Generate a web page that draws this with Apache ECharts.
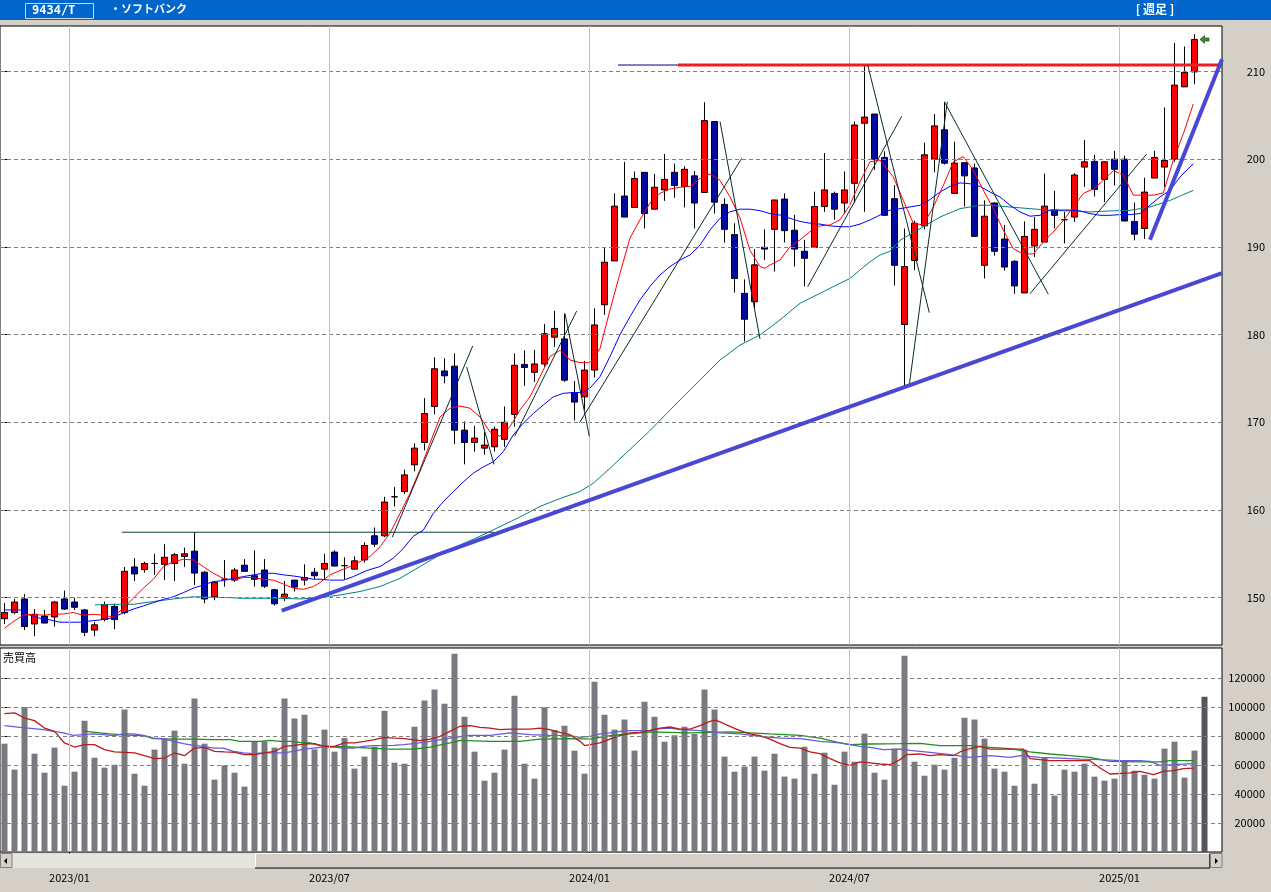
<!DOCTYPE html>
<html><head><meta charset="utf-8">
<script src="https://cdn.jsdelivr.net/npm/echarts@6/dist/echarts.min.js"></script>
<style>html,body{margin:0;padding:0;background:#d4d0c8;overflow:hidden}#c{width:1271px;height:892px}</style>
</head><body><div id="c"></div>
<script>
// weekly candles: [open, close, low, high]
const ohlc = [
[147.6,148.3,147.0,149.4],[148.3,149.5,148.1,149.85],[149.85,146.7,146.3,150.4],[147.0,148.1,145.6,148.7],[147.9,147.1,147.1,148.6],
[147.8,149.5,146.7,149.6],[149.85,148.7,148.6,150.8],[149.5,148.9,148.6,150.0],[148.6,146.05,145.6,148.7],[146.3,146.9,145.6,147.2],
[147.5,149.2,147.3,149.55],[149.0,147.5,146.4,149.3],[148.3,153.0,148.1,153.5],[153.5,152.7,151.9,154.5],[153.2,153.9,152.85,154.1],
[153.9,153.9,152.6,155.0],[153.8,154.6,152.0,156.1],[153.9,154.9,151.9,155.1],[154.7,155.0,153.5,155.7],[155.3,152.8,151.45,157.45],
[152.9,149.85,149.35,153.0],[150.1,151.75,149.7,151.9],[152.1,152.1,151.25,154.3],[152.0,153.15,151.8,153.4],[153.7,153.0,153.0,154.4],
[152.5,152.1,151.25,155.4],[153.15,151.3,151.1,154.4],[150.9,149.3,149.1,151.0],[149.9,150.4,149.6,151.9],[152.0,151.2,150.7,152.0],
[152.0,152.3,151.4,153.8],[152.9,152.5,152.1,153.4],[153.25,153.9,152.1,155.0],[155.2,153.6,153.6,155.4],[153.65,153.65,152.1,154.6],
[153.25,154.2,153.2,154.7],[154.3,155.95,154.0,156.3],[157.05,156.1,155.8,158.0],[157.05,160.9,156.9,161.5],[161.5,161.5,160.4,162.6],
[162.1,164.0,161.8,164.6],[165.15,167.05,164.4,167.6],[167.7,171.0,166.8,172.75],[171.8,176.1,170.9,177.4],[175.85,175.3,174.45,177.3],
[176.4,169.1,167.5,177.85],[169.1,167.7,165.2,170.1],[167.7,168.2,166.65,169.6],[167.05,167.4,166.3,168.9],[167.2,169.2,166.65,169.5],
[168.05,170.0,167.2,171.8],[170.9,176.5,169.5,177.85],[176.6,176.25,174.15,178.2],[175.7,176.65,174.6,178.25],[176.65,180.1,176.35,181.2],
[179.7,180.7,178.6,182.7],[179.5,174.8,174.6,182.4],[173.4,172.3,170.2,174.7],[172.9,175.95,171.4,177.0],[175.95,181.1,175.1,183.0],
[183.4,188.25,182.25,189.85],[188.4,194.65,188.4,196.1],[195.8,193.4,193.4,199.7],[194.5,197.8,194.5,198.6],[198.5,193.8,192.1,198.5],
[194.3,196.8,194.3,198.3],[196.5,197.7,195.25,200.6],[198.5,197.0,195.6,199.5],[196.9,198.85,194.5,199.2],[198.1,195.0,192.1,198.65],
[196.2,204.4,196.2,206.5],[204.3,195.1,193.8,204.3],[194.85,192.0,190.5,195.55],[191.4,186.4,184.8,192.7],[184.7,181.75,179.2,186.3],
[183.75,187.95,183.0,189.75],[189.95,189.75,188.5,192.0],[192.0,195.35,187.2,195.35],[195.45,191.85,190.5,196.1],[191.9,189.75,187.75,193.65],
[189.5,188.7,185.5,190.8],[189.95,194.6,189.95,196.3],[194.6,196.5,194.0,200.7],[196.1,194.3,193.1,196.3],[195.0,196.5,193.8,198.6],
[197.25,203.9,195.0,204.3],[204.1,204.8,194.0,210.7],[205.15,200.0,198.8,205.15],[200.2,193.6,193.6,200.9],[195.5,187.9,185.6,197.05],
[181.15,187.75,174.05,192.1],[188.45,192.7,187.35,193.0],[192.4,200.5,192.0,201.9],[200.0,203.8,198.5,205.15],[203.35,199.55,199.4,206.55],
[196.1,199.55,196.1,202.0],[199.6,198.1,194.6,199.6],[199.0,191.2,191.2,199.5],[187.9,193.5,186.4,195.3],[195.0,189.5,189.0,195.1],
[190.9,187.7,187.3,192.5],[188.35,185.55,184.65,188.5],[184.75,191.2,184.75,192.9],[190.1,192.0,188.85,193.4],[190.55,194.65,190.55,198.35],
[194.2,193.6,192.1,196.4],[193.1,193.1,190.4,194.0],[193.4,198.2,192.85,198.4],[199.1,199.7,196.85,202.2],[199.75,196.55,195.75,200.5],
[197.7,199.7,195.1,199.75],[200.0,198.85,197.0,200.95],[200.0,192.95,192.95,200.4],[192.9,191.45,190.75,195.05],[192.1,196.25,190.9,197.9],
[197.85,200.2,197.85,200.95],[199.1,199.85,196.85,205.9],[200.0,208.45,199.7,213.25],[208.25,209.9,208.25,212.85],[209.95,213.65,208.55,214.25]
];
const volumes = [
74700,56800,100000,67800,54700,72000,45700,55400,90600,65000,
58200,60200,98200,54000,45700,70600,78200,83700,60900,105800,
74700,49900,59800,54700,45100,75900,76300,72000,105800,92000,
94700,70800,84400,69200,78600,57500,65800,72600,97500,61600,
60900,86400,104400,112000,102300,136800,93300,69200,49200,54700,
70600,107800,60900,50600,99800,84100,87100,69900,54000,117500,
94700,84400,91300,69900,103700,93300,76100,80500,86400,81400,
112000,98200,65800,55400,58900,65800,56100,67800,52000,50600,
72600,54000,68500,46400,69200,62300,81600,54700,49900,71300,
135400,62300,52600,60200,56800,65000,92600,91300,78200,57500,
55400,45700,70600,47100,65000,38900,56800,55400,60900,52000,
49200,50600,62300,56100,53300,50600,71300,76100,51300,69900,
107100
];
// price moving averages: [week index, value]
const maShort = [[0,146.5],[0.88,147.27],[1.88,148.0],[2.88,148.1],[3.88,148.0],[4.88,148.1],[5.88,148.14],[6.88,148.3],[7.88,148.0],[8.88,148.1],[9.88,148.0],[10.88,147.8],[11.88,148.8],[12.88,149.93],[13.88,151.07],[14.88,152.1],[15.88,153.54],[16.88,154.1],[17.88,154.37],[18.88,154.3],[19.88,153.54],[20.88,152.78],[21.88,152.2],[22.88,152.0],[23.88,152.3],[24.88,152.3],[25.88,152.1],[26.88,152.0],[27.88,151.56],[28.88,151.07],[29.88,150.95],[30.88,151.26],[31.55,151.72],[32.55,152.6],[33.55,153.09],[34.55,153.55],[35.55,154.1],[36.55,154.7],[37.55,155.8],[38.55,157.35],[39.55,159.6],[40.55,161.9],[41.55,164.6],[42.55,167.6],[43.55,170.6],[44.55,171.6],[45.55,171.86],[46.55,171.6],[47.55,170.6],[48.55,168.9],[49.55,168.4],[50.55,169.5],[51.55,171.4],[52.55,172.9],[53.55,175.2],[54.55,177.5],[55.55,178.2],[56.55,177.1],[57.55,176.8],[58.55,176.8],[59.55,178.4],[60.55,182.8],[61.55,187.0],[62.55,191.0],[63.55,193.1],[64.55,195.0],[65.55,196.1],[66.55,196.6],[67.55,196.8],[68.55,196.9],[69.55,197.8],[70.55,198.3],[71.55,197.6],[72.55,195.7],[73.55,193.3],[74.55,189.6],[75.55,187.75],[76.05,187.56],[76.55,187.94],[77.55,188.5],[78.55,190.0],[79.55,190.8],[80.55,191.74],[81.55,192.4],[82.55,192.5],[83.55,193.1],[84.55,194.8],[85.55,197.44],[86.55,199.7],[87.55,199.9],[88.88,197.98],[89.88,195.3],[90.88,192.7],[91.88,192.5],[92.88,194.55],[93.88,197.0],[94.88,199.7],[95.88,200.3],[96.88,198.74],[97.88,196.46],[98.88,194.36],[99.88,191.9],[100.88,189.8],[101.88,189.2],[102.88,189.2],[103.88,190.56],[104.88,191.7],[105.88,193.0],[106.88,194.55],[107.88,196.1],[108.88,196.6],[109.88,197.6],[110.88,198.7],[111.88,198.2],[112.88,195.9],[113.88,195.9],[114.88,195.9],[115.88,196.15],[116.88,199.9],[117.88,202.9],[118.88,206.3]];
const maMid = [[0,148.6],[1.55,148.6],[2.55,148.0],[3.55,147.65],[4.55,147.46],[5.55,147.2],[6.55,147.2],[7.55,147.2],[8.55,147.34],[9.55,147.46],[10.55,147.65],[11.55,148.1],[12.88,148.7],[13.88,149.05],[14.88,149.43],[15.88,149.8],[16.88,150.1],[17.88,150.57],[18.88,151.07],[19.88,151.45],[20.88,151.83],[21.88,151.94],[22.88,152.2],[23.88,152.4],[24.88,152.6],[25.88,152.78],[26.88,152.78],[27.88,152.6],[28.88,152.47],[29.88,152.3],[30.88,152.1],[31.55,152.1],[32.55,152.0],[33.88,152.0],[34.88,152.4],[36.22,153.09],[37.55,153.55],[38.88,154.5],[39.88,155.6],[40.88,157.0],[41.88,157.7],[42.88,159.6],[43.88,160.95],[44.88,162.1],[45.88,163.2],[46.88,164.2],[47.88,164.9],[48.88,165.5],[49.88,166.65],[50.88,168.55],[51.88,169.9],[52.88,171.0],[53.88,171.97],[54.88,172.9],[55.88,173.3],[56.88,173.4],[57.88,173.4],[58.55,173.9],[59.55,175.2],[60.55,177.5],[61.55,180.0],[62.55,182.05],[63.55,183.95],[64.55,185.5],[65.55,186.8],[66.55,187.75],[67.55,188.5],[68.55,189.08],[69.55,190.2],[70.55,191.93],[71.55,193.26],[72.55,194.0],[73.55,194.3],[74.55,194.3],[75.55,194.13],[76.55,193.8],[77.55,193.64],[78.55,193.26],[79.55,192.9],[80.55,192.7],[81.55,192.6],[82.55,192.4],[83.55,192.3],[84.55,192.3],[85.55,192.6],[86.55,193.07],[87.55,193.64],[88.55,194.2],[89.55,194.36],[91.55,194.75],[92.55,195.4],[93.55,196.26],[94.55,196.9],[95.55,197.3],[96.55,197.2],[97.55,196.9],[98.55,196.26],[99.55,195.7],[100.55,194.75],[101.55,193.99],[102.55,193.5],[103.55,193.6],[104.55,194.2],[105.55,194.2],[106.55,194.2],[107.55,194.1],[108.55,193.8],[109.55,193.6],[110.55,193.6],[111.55,193.68],[112.55,193.68],[113.55,193.8],[114.55,194.75],[115.55,195.7],[116.55,196.45],[117.55,197.97],[118.88,199.5]];
const maLong = [[9.05,149.17],[10.55,149.24],[12.88,149.24],[14.88,149.55],[16.88,149.85],[18.88,150.1],[20.88,150.04],[22.55,150.0],[23.55,149.93],[25.55,149.93],[27.55,149.93],[29.55,149.85],[31.55,150.0],[33.55,150.3],[35.55,150.7],[37.55,151.27],[39.55,152.2],[41.55,153.55],[43.55,154.9],[45.55,156.0],[47.55,157.0],[49.55,158.1],[51.55,159.2],[53.55,160.4],[55.55,161.3],[57.55,162.1],[58.88,163.05],[60.55,164.75],[64.5,169.0],[67.55,172.55],[69.55,174.83],[71.55,177.1],[73.55,178.8],[75.55,179.96],[77.55,181.67],[79.55,183.57],[81.55,184.7],[83.55,185.85],[84.55,186.4],[85.55,187.37],[86.55,188.3],[87.55,189.08],[88.55,189.5],[89.55,190.75],[91.55,192.08],[93.55,193.4],[95.55,194.36],[97.55,194.75],[98.55,194.75],[100.55,194.55],[102.55,194.36],[104.55,194.17],[106.55,194.1],[108.55,193.99],[110.55,194.1],[112.55,194.17],[114.55,194.55],[116.55,195.3],[118.88,196.45]];
// volume moving averages
const volMaShort = [[0,95400],[1,95900],[2,92400],[3,90600],[4,85500],[5,83200],[6,75200],[7,72400],[8,74000],[9,74000],[10,70600],[11,69000],[12,68700],[13,68300],[14,66400],[15,64400],[16,64800],[17,68300],[18,66400],[19,71700],[20,72200],[21,69400],[22,69000],[23,68700],[24,67100],[25,67100],[26,68300],[27,69400],[28,72900],[29,73600],[30,74500],[31,74700],[32,72900],[33,72900],[34,75200],[35,75200],[36,76300],[37,77500],[38,79100],[39,78600],[40,78200],[41.55,76800],[42.55,77900],[43.55,79800],[44.55,83200],[45.55,86700],[46.55,87100],[47.55,86000],[48.55,85500],[49.55,84400],[50.55,84800],[52.55,84800],[53.55,85500],[54.55,84400],[55.55,82500],[56.55,80900],[57.55,76300],[58.05,73300],[58.55,74000],[59.55,75200],[60.55,77900],[61.55,80200],[62.55,82100],[63.55,82500],[64.55,83900],[65.55,85500],[66.55,86200],[67.55,84800],[68.55,84800],[69.55,87100],[70.55,90100],[71.05,91000],[71.55,89700],[72.55,86700],[73.55,83700],[74.55,81400],[75.55,80200],[76.55,77900],[77.55,74700],[78.55,72200],[79.55,71700],[80.55,69000],[81.55,67800],[82.55,64400],[83.55,61400],[84.55,59800],[85.55,62100],[86.55,61400],[87.55,60700],[88.55,60200],[89.55,63700],[90.2,67100],[91.55,67600],[92.55,66400],[93.55,67100],[94.9,66400],[95.55,69000],[96.55,71300],[97.55,72900],[98.55,71000],[100.2,71000],[101.9,71000],[102.55,64400],[104.55,63000],[108.55,63000],[109.55,57900],[110.55,53800],[112.55,54500],[113.55,55600],[114.9,53300],[115.9,55600],[116.9,56100],[117.9,57500],[118.9,57900]];
const volMaMid = [[0,87100],[1.55,86000],[2.9,85100],[3.9,84400],[4.9,83200],[5.9,82100],[6.9,80500],[7.9,80900],[8.9,81400],[9.9,80900],[10.9,80200],[11.9,81400],[12.9,81400],[13.9,80500],[14.9,78600],[15.9,78200],[16.9,76300],[17.9,74700],[18.9,73600],[19.9,72900],[20.9,71700],[21.9,71700],[22.9,69400],[23.9,68300],[24.9,67800],[25.9,68300],[26.9,68300],[27.9,68300],[28.9,69400],[29.9,71000],[30.9,71700],[31.9,72400],[32.9,72400],[33.9,71700],[34.9,71700],[35.9,72900],[36.9,73300],[37.9,73300],[38.9,73600],[39.9,74000],[40.9,74700],[42.55,76300],[44.55,78600],[46.55,80500],[48.55,80500],[50.55,82100],[52.55,80900],[54.55,80500],[56.55,80200],[57.55,79100],[58.55,79800],[59.55,81400],[60.55,82100],[61.55,83200],[62.55,83700],[64.55,83700],[65.55,85100],[66.55,85500],[67.55,84400],[69.55,83700],[71.55,82100],[73.55,81400],[75.55,79800],[77.55,78600],[79.55,78200],[81.55,76300],[83.55,75200],[84.55,74000],[85.55,72900],[86.55,72200],[87.9,70600],[89.55,71000],[90.55,70100],[92.55,68700],[94.55,67100],[96.55,65300],[98.55,66400],[100.55,65300],[101.55,66400],[103.55,65300],[105.55,64800],[107.55,64100],[109.55,63700],[111.55,63000],[113.55,63000],[114.55,62500],[115.55,59800],[116.9,60200],[118.9,60900]];
const volMaLong = [[7.9,83400],[9.55,82100],[10.55,81400],[11.55,80900],[12.9,80500],[13.9,80200],[14.9,78200],[16.9,77900],[18.9,77900],[20.9,77500],[22.55,77500],[23.55,76300],[25.55,76300],[26.55,77000],[27.55,76300],[28.55,76300],[29.55,75600],[30.55,75200],[31.55,73300],[32.55,72900],[34.55,72400],[36.55,71700],[38.55,71000],[40.9,71000],[42.55,72400],[44.55,75200],[45.55,77000],[48.55,76300],[51.55,76300],[53.55,77900],[56.55,78200],[58.55,77900],[60.55,80200],[62.55,81400],[64.55,82800],[68.55,82100],[72.55,82800],[76.55,81400],[79.55,80500],[81.55,78600],[83.55,75200],[84.55,74000],[86.55,74500],[89.55,74700],[91.55,74900],[93.55,73300],[96.55,73300],[98.55,72200],[100.55,71300],[102.55,69000],[104.55,67600],[106.55,66400],[108.55,65300],[110.55,62500],[113.55,62100],[115.55,62100],[116.55,63000],[118.9,63000]];
// drawn trend lines [[week, price],[week, price]]
const thinLines = [
 [[38.78,156.9],[46.82,178.7]],[[46.22,176.3],[48.95,165.2]],[[51.02,168.4],[57.22,182.7]],
 [[56.05,182.4],[58.48,168.4]],[[57.5,169.95],[73.72,200.1]],[[71.55,204.3],[75.55,179.5]],
 [[80.32,185.46],[89.72,204.9]],[[86.32,210.74],[92.48,182.5]],[[90.48,174.26],[94.28,206.56]],
 [[93.98,206.56],[104.38,184.6]],[[102.55,184.66],[114.22,200.6]]
];
const supportLines = [[[27.72,148.52],[121.75,187.0]],[[114.55,190.82],[121.75,211.4]]];
const boxTopLine = [[11.75,157.46],[48.95,157.46]];
const resistStub = [[61.35,210.74],[67.35,210.74]];
const resistLine = [[67.35,210.74],[121.75,210.74]];
const lastPriceMark = [[120.0,213.65]];
const priceTicks = [150,160,170,180,190,200,210];
const volumeTicks = [20000,40000,60000,80000,100000,120000];
const monthTickPos = [6.5,32.5,58.5,84.5,111.5];
const monthTickLabels = ['2023/01','2023/07','2024/01','2024/07','2025/01'];

const chart = echarts.init(document.getElementById('c'), null, {renderer:'canvas'});
const XMIN = -0.45, XMAX = 121.75;
const lbl = {color:'#000', fontSize:11, fontFamily:'"Noto Sans CJK JP", sans-serif'};
const dashLine = {color:'#808080', type:[4,3], width:1};
const vLine = {color:'#c0c0c0', type:'solid', width:1};

function gridMarks(values){
  return {silent:true, symbol:'none', animation:false, label:{show:false},
    data: values.map(v=>({yAxis:v, lineStyle:dashLine})).concat(monthTickPos.map(v=>({xAxis:v, lineStyle:vLine})))};
}
function seg(data, color, width, xi, yi, z){
  return {type:'line', xAxisIndex:xi||0, yAxisIndex:yi||0, data:data, symbol:'none', showSymbol:false,
    lineStyle:{color:color, width:width}, silent:true, animation:false, z:z||5};
}

const series = [];
series.push({type:'line', xAxisIndex:0, yAxisIndex:0, data:[], markLine:gridMarks(priceTicks), z:1, silent:true});
series.push({type:'line', xAxisIndex:1, yAxisIndex:1, data:[], markLine:gridMarks(volumeTicks), z:1, silent:true});
series.push({type:'candlestick', xAxisIndex:0, yAxisIndex:0, barWidth:7,
  data: ohlc.map((d,i)=>[i,d[0],d[1],d[2],d[3]]), encode:{x:0, y:[1,2,3,4]},
  itemStyle:{color:'#ff0000', color0:'#000a9c', borderColor:'#000', borderColor0:'#000', borderWidth:1}, z:3, silent:true});
series.push(seg(maLong,'#008080',1,0,0,4));
series.push(seg(maMid,'#0000ff',1,0,0,4));
series.push(seg(maShort,'#ff0000',1,0,0,4));
series.push(seg(boxTopLine,'#0a3a3a',1));
series.push(seg(resistStub,'#000080',1));
series.push(seg(resistLine,'#ee1c25',3));
thinLines.forEach(l=>series.push(seg(l,'#0a2a2a',1)));
supportLines.forEach(l=>series.push(seg(l,'#4848d4',4)));
series.push({type:'scatter', xAxisIndex:0, yAxisIndex:0, data:lastPriceMark, symbol:'path://M0,5 L5,0 L5,3 L10,3 L10,7 L5,7 L5,10 Z',
  symbolSize:[9,8], itemStyle:{color:'#007000', borderColor:'#002000', borderWidth:0.6}, z:6, silent:true});
series.push({type:'bar', xAxisIndex:1, yAxisIndex:1, barWidth:6,
  data: volumes.map((v,i)=>({value:[i,v], itemStyle:{color: i===volumes.length-1 ? '#56555c' : '#7a7980'}})), z:2, silent:true});
series.push(seg(volMaLong,'#1f8f1f',1.3,1,1,4));
series.push(seg(volMaMid,'#6a5ad8',1.3,1,1,4));
series.push(seg(volMaShort,'#b81c1c',1.3,1,1,4));

const scrollY = 853.5;
chart.setOption({
  animation:false,
  backgroundColor:'#d4d0c8',
  grid:[
    {left:0, top:26, width:1222, height:619, show:true, backgroundColor:'#ffffff', borderColor:'#000', borderWidth:1},
    {left:0, top:648, width:1222, height:204, show:true, backgroundColor:'#ffffff', borderColor:'#000', borderWidth:1}
  ],
  xAxis:[
    {type:'value', gridIndex:0, min:XMIN, max:XMAX, show:false},
    {type:'value', gridIndex:1, min:XMIN, max:XMAX, offset:17,
      axisLine:{show:false}, splitLine:{show:false},
      axisTick:{show:true, length:5, customValues:monthTickPos, lineStyle:{color:'#000'}},
      axisLabel:Object.assign({customValues:monthTickPos, margin:3,
        formatter:(v)=>{const k=monthTickPos.findIndex(p=>Math.abs(p-v)<0.01); return k>=0?monthTickLabels[k]:'';}}, lbl)}
  ],
  yAxis:[
    {type:'value', gridIndex:0, position:'right', min:144.6, max:215.19, splitLine:{show:false},
      axisLine:{show:false}, axisTick:{show:true, length:3, customValues:priceTicks, lineStyle:{color:'#000'}},
      axisLabel:Object.assign({customValues:priceTicks, align:'right', margin:43, formatter:(v)=>String(v)}, lbl)},
    {type:'value', gridIndex:1, position:'right', min:0, max:140690, splitLine:{show:false},
      axisLine:{show:false}, axisTick:{show:true, length:3, customValues:volumeTicks, lineStyle:{color:'#000'}},
      axisLabel:Object.assign({customValues:volumeTicks, align:'right', margin:43, formatter:(v)=>String(v)}, lbl)}
  ],
  series: series,
  graphic:[
    {type:'rect', shape:{x:0,y:0,width:1271,height:20}, style:{fill:'#0066cc'}, z:100, silent:true},
    {type:'rect', shape:{x:25.5,y:3.5,width:68,height:15}, style:{fill:'none', stroke:'#c8d4e8', lineWidth:1}, z:101, silent:true},
    {type:'text', x:32, y:4.5, style:{text:'9434/T', fill:'#fff', font:'bold 12px "DejaVu Sans Mono", monospace'}, z:101, silent:true},
    {type:'text', x:110, y:3.5, style:{text:'・ソフトバンク', fill:'#fff', font:'bold 11px "Noto Sans CJK JP"'}, z:101, silent:true},
    {type:'text', x:1155, y:3, style:{text:'[ 週足 ]', fill:'#fff', align:'center', font:'bold 12px "Noto Sans CJK JP"'}, z:101, silent:true},
    {type:'text', x:3, y:652, style:{text:'売買高', fill:'#000', font:'11px "Noto Sans CJK JP"'}, z:101, silent:true},
    // scrollbar
    {type:'rect', shape:{x:0,y:scrollY,width:1222,height:14.5}, style:{fill:'#e6e4df'}, z:90, silent:true},
    {type:'rect', shape:{x:255.5,y:scrollY,width:954,height:14}, style:{fill:'#d4d0c8', stroke:'#ffffff', lineWidth:1}, z:91, silent:true},
    {type:'line', shape:{x1:255,y1:868,x2:1210,y2:868}, style:{stroke:'#404040', lineWidth:1.5}, z:92, silent:true},
    {type:'line', shape:{x1:1209.5,y1:scrollY,x2:1209.5,y2:868}, style:{stroke:'#404040', lineWidth:1}, z:92, silent:true},
    {type:'rect', shape:{x:0.5,y:scrollY,width:11.5,height:14}, style:{fill:'#d4d0c8', stroke:'#808080', lineWidth:1}, z:91, silent:true},
    {type:'polygon', shape:{points:[[4,861],[7,858],[7,864]]}, style:{fill:'#000'}, z:93, silent:true},
    {type:'rect', shape:{x:1210.5,y:scrollY,width:11.5,height:14}, style:{fill:'#d4d0c8', stroke:'#808080', lineWidth:1}, z:91, silent:true},
    {type:'polygon', shape:{points:[[1218,861],[1215,858],[1215,864]]}, style:{fill:'#000'}, z:93, silent:true}
  ]
});
</script></body></html>
